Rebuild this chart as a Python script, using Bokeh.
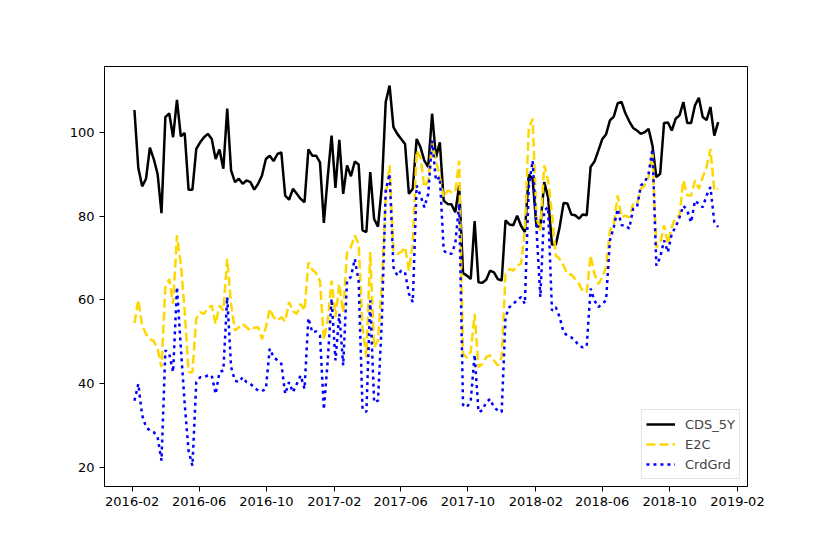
import pandas as pd
from bokeh.plotting import figure
from bokeh.models import (Range1d, FixedTicker, DatetimeTickFormatter, Legend,
                          LegendItem, ColumnDataSource)
from bokeh.embed import file_html
from bokeh.resources import INLINE

# ---- data (weekly observations) ----
start_date = "2016-02-05"
n_obs = 152

cds_5y = [
    105.3, 91.5, 87.1, 88.9, 96.3, 93.6, 90.0, 80.7, 103.6, 104.5,
    98.8, 107.7, 99.0, 99.8, 86.3, 86.3, 96.0, 97.6, 98.8, 99.6,
    98.4, 93.6, 95.9, 91.3, 105.6, 90.9, 88.1, 88.9, 87.7, 88.5,
    88.1, 86.3, 87.7, 89.7, 93.6, 94.4, 93.1, 94.8, 95.2, 84.9,
    83.9, 86.5, 85.3, 84.1, 83.3, 95.9, 94.4, 94.4, 92.8, 78.4,
    89.3, 99.2, 86.7, 98.2, 85.3, 92.1, 89.5, 93.0, 92.3, 76.6,
    76.2, 90.5, 79.3, 77.5, 87.0, 107.2, 111.1, 101.2, 99.6, 98.4,
    97.2, 85.3, 86.5, 98.4, 96.4, 93.2, 91.7, 104.4, 94.0, 97.6,
    83.7, 82.9, 82.8, 80.9, 87.3, 66.4, 65.8, 65.0, 78.8, 64.2,
    64.1, 64.8, 67.0, 66.6, 65.0, 64.6, 79.0, 78.0, 77.8, 80.1,
    77.7, 76.2, 89.9, 88.9, 77.5, 77.5, 88.1, 84.5, 73.2, 73.2,
    77.4, 83.1, 83.0, 80.4, 80.2, 79.4, 80.4, 80.2, 91.7, 93.0,
    95.6, 98.3, 99.5, 102.8, 103.7, 106.9, 107.2, 104.5, 102.6, 101.0,
    100.4, 99.6, 100.0, 100.8, 96.8, 89.3, 90.1, 102.2, 102.3, 100.4,
    103.2, 104.0, 107.2, 102.2, 102.2, 106.4, 108.2, 103.6, 102.9, 106.0,
    99.2, 102.4,
]

e2c = [
    54.5, 60.0, 53.9, 51.9, 50.7, 50.2, 48.4, 44.0, 63.1, 65.0,
    59.1, 75.4, 68.6, 57.5, 42.8, 42.8, 55.5, 57.1, 56.7, 58.1,
    58.7, 54.3, 58.7, 57.5, 69.8, 59.1, 52.7, 53.5, 54.3, 53.5,
    52.7, 53.4, 53.5, 50.7, 53.5, 57.9, 55.9, 55.1, 55.9, 54.9,
    59.5, 57.3, 56.7, 59.1, 57.5, 69.0, 67.2, 66.4, 64.5, 50.5,
    55.1, 64.6, 55.9, 63.8, 57.0, 71.4, 72.6, 75.4, 73.4, 53.5,
    46.3, 71.4, 48.7, 50.3, 63.8, 84.5, 92.1, 71.8, 71.0, 71.4,
    72.6, 67.0, 73.4, 95.6, 94.0, 86.9, 88.5, 97.6, 93.2, 89.3,
    84.5, 86.1, 85.7, 85.7, 93.2, 47.2, 46.2, 47.6, 56.7, 44.0,
    44.8, 46.4, 46.8, 45.6, 44.4, 46.4, 66.2, 67.4, 67.0, 68.2,
    68.6, 76.6, 100.8, 103.2, 79.7, 76.6, 92.1, 88.5, 80.5, 70.6,
    69.8, 68.2, 66.2, 66.1, 65.0, 63.8, 62.1, 61.9, 70.6, 66.2,
    63.8, 65.4, 67.8, 76.6, 78.1, 84.9, 79.7, 80.1, 79.7, 82.9,
    82.9, 86.5, 87.3, 89.3, 95.2, 72.6, 73.4, 77.8, 73.4, 77.4,
    79.7, 80.1, 88.5, 84.9, 84.9, 88.5, 86.5, 89.3, 91.7, 96.0,
    86.1, 86.5,
]

crd_grd = [
    36.0, 40.0, 32.5, 29.7, 28.9, 28.5, 27.3, 21.7, 48.0, 47.2,
    42.8, 63.1, 48.7, 35.2, 24.1, 20.5, 40.4, 41.6, 41.6, 42.0,
    42.0, 37.6, 42.8, 43.2, 60.7, 44.0, 40.8, 40.4, 41.6, 40.4,
    40.0, 39.2, 38.4, 38.3, 38.8, 48.4, 46.4, 45.6, 44.8, 37.6,
    40.4, 38.0, 40.0, 42.0, 38.8, 55.7, 52.3, 52.5, 51.5, 33.9,
    45.5, 60.3, 45.6, 56.7, 44.4, 64.6, 65.5, 69.8, 64.5, 34.0,
    33.3, 59.9, 35.6, 36.0, 55.0, 86.1, 90.1, 67.8, 65.8, 67.0,
    66.6, 61.5, 59.5, 87.3, 84.9, 82.1, 85.3, 98.0, 88.5, 89.3,
    71.8, 71.0, 71.0, 73.4, 82.9, 35.0, 34.4, 36.0, 47.0, 33.3,
    33.7, 35.6, 36.4, 34.4, 33.7, 33.3, 56.0, 58.3, 59.1, 59.9,
    60.7, 59.1, 86.9, 93.2, 77.0, 60.7, 81.3, 82.1, 57.5, 58.3,
    55.9, 52.3, 51.5, 51.1, 50.3, 49.1, 48.7, 49.0, 62.7, 59.9,
    58.3, 59.1, 59.9, 74.2, 77.4, 81.7, 77.8, 77.8, 77.0, 81.7,
    82.1, 87.3, 88.1, 90.1, 96.0, 68.2, 70.2, 74.2, 71.4, 75.8,
    77.4, 79.7, 82.5, 81.3, 78.5, 83.7, 82.9, 82.1, 84.9, 86.9,
    78.5, 77.4,
]

x_tick_labels = ["2016-02", "2016-06", "2016-10", "2017-02", "2017-06",
                 "2017-10", "2018-02", "2018-06", "2018-10", "2019-02"]
y_ticks = [20, 40, 60, 80, 100]

assert len(cds_5y) == n_obs and len(e2c) == n_obs and len(crd_grd) == n_obs

dates = pd.date_range(start_date, periods=n_obs, freq="7D")
src = ColumnDataSource(dict(date=dates, cds=cds_5y, e2c=e2c, crd=crd_grd))

def ms(ts):
    return pd.Timestamp(ts).value / 1e6

tick_ms = [ms(t + "-01") for t in x_tick_labels]
day = 86400000.0

p = figure(width=814, height=538, x_axis_type="datetime",
           output_backend="svg", toolbar_location=None,
           x_range=Range1d(ms("2016-02-01") - 50.2 * day, ms("2019-02-01") + 18.1 * day),
           y_range=Range1d(15.54, 115.66))
p.min_border_left = 104
p.min_border_right = 67
p.min_border_top = 66
p.min_border_bottom = 52

p.background_fill_color = "white"
p.border_fill_color = "white"
p.outline_line_color = "black"
p.outline_line_width = 1
p.outline_line_alpha = 1
p.grid.visible = False

fmt = "%Y-%m"
p.xaxis.ticker = FixedTicker(ticks=tick_ms)
p.xaxis.formatter = DatetimeTickFormatter(
    milliseconds=fmt, seconds=fmt, minsec=fmt, minutes=fmt, hourmin=fmt,
    hours=fmt, days=fmt, months=fmt, years=fmt)
p.yaxis.ticker = FixedTicker(ticks=y_ticks)

for ax in (p.xaxis[0], p.yaxis[0]):
    ax.axis_line_color = "black"
    ax.axis_line_width = 1
    ax.major_tick_line_color = "black"
    ax.major_tick_out = 5
    ax.major_tick_in = 0
    ax.minor_tick_out = 0
    ax.minor_tick_in = 0
    ax.major_label_text_font = "DejaVu Sans"
    ax.major_label_text_font_size = "13px"
    ax.major_label_text_color = "black"
    ax.major_label_standoff = 5

r1 = p.line("date", "cds", source=src, line_color="black", line_width=2.5)
r2 = p.line("date", "e2c", source=src, line_color="#FFD700", line_width=2.5,
            line_dash="9 4")
r3 = p.line("date", "crd", source=src, line_color="#0000FF", line_width=2.5,
            line_dash="3 4")

legend = Legend(items=[LegendItem(label="CDS_5Y", renderers=[r1]),
                       LegendItem(label="E2C", renderers=[r2]),
                       LegendItem(label="CrdGrd", renderers=[r3])],
                location="bottom_right")
legend.label_text_font = "DejaVu Sans"
legend.label_text_font_size = "13px"
legend.glyph_width = 29
legend.glyph_height = 20
legend.label_height = 20
legend.label_standoff = 10
legend.spacing = 0
legend.padding = 4
legend.margin = 7
legend.border_line_color = "#cccccc"
legend.border_line_width = 1
legend.background_fill_alpha = 0.8
p.add_layout(legend)

open("out.html", "w").write(file_html(p, INLINE))
